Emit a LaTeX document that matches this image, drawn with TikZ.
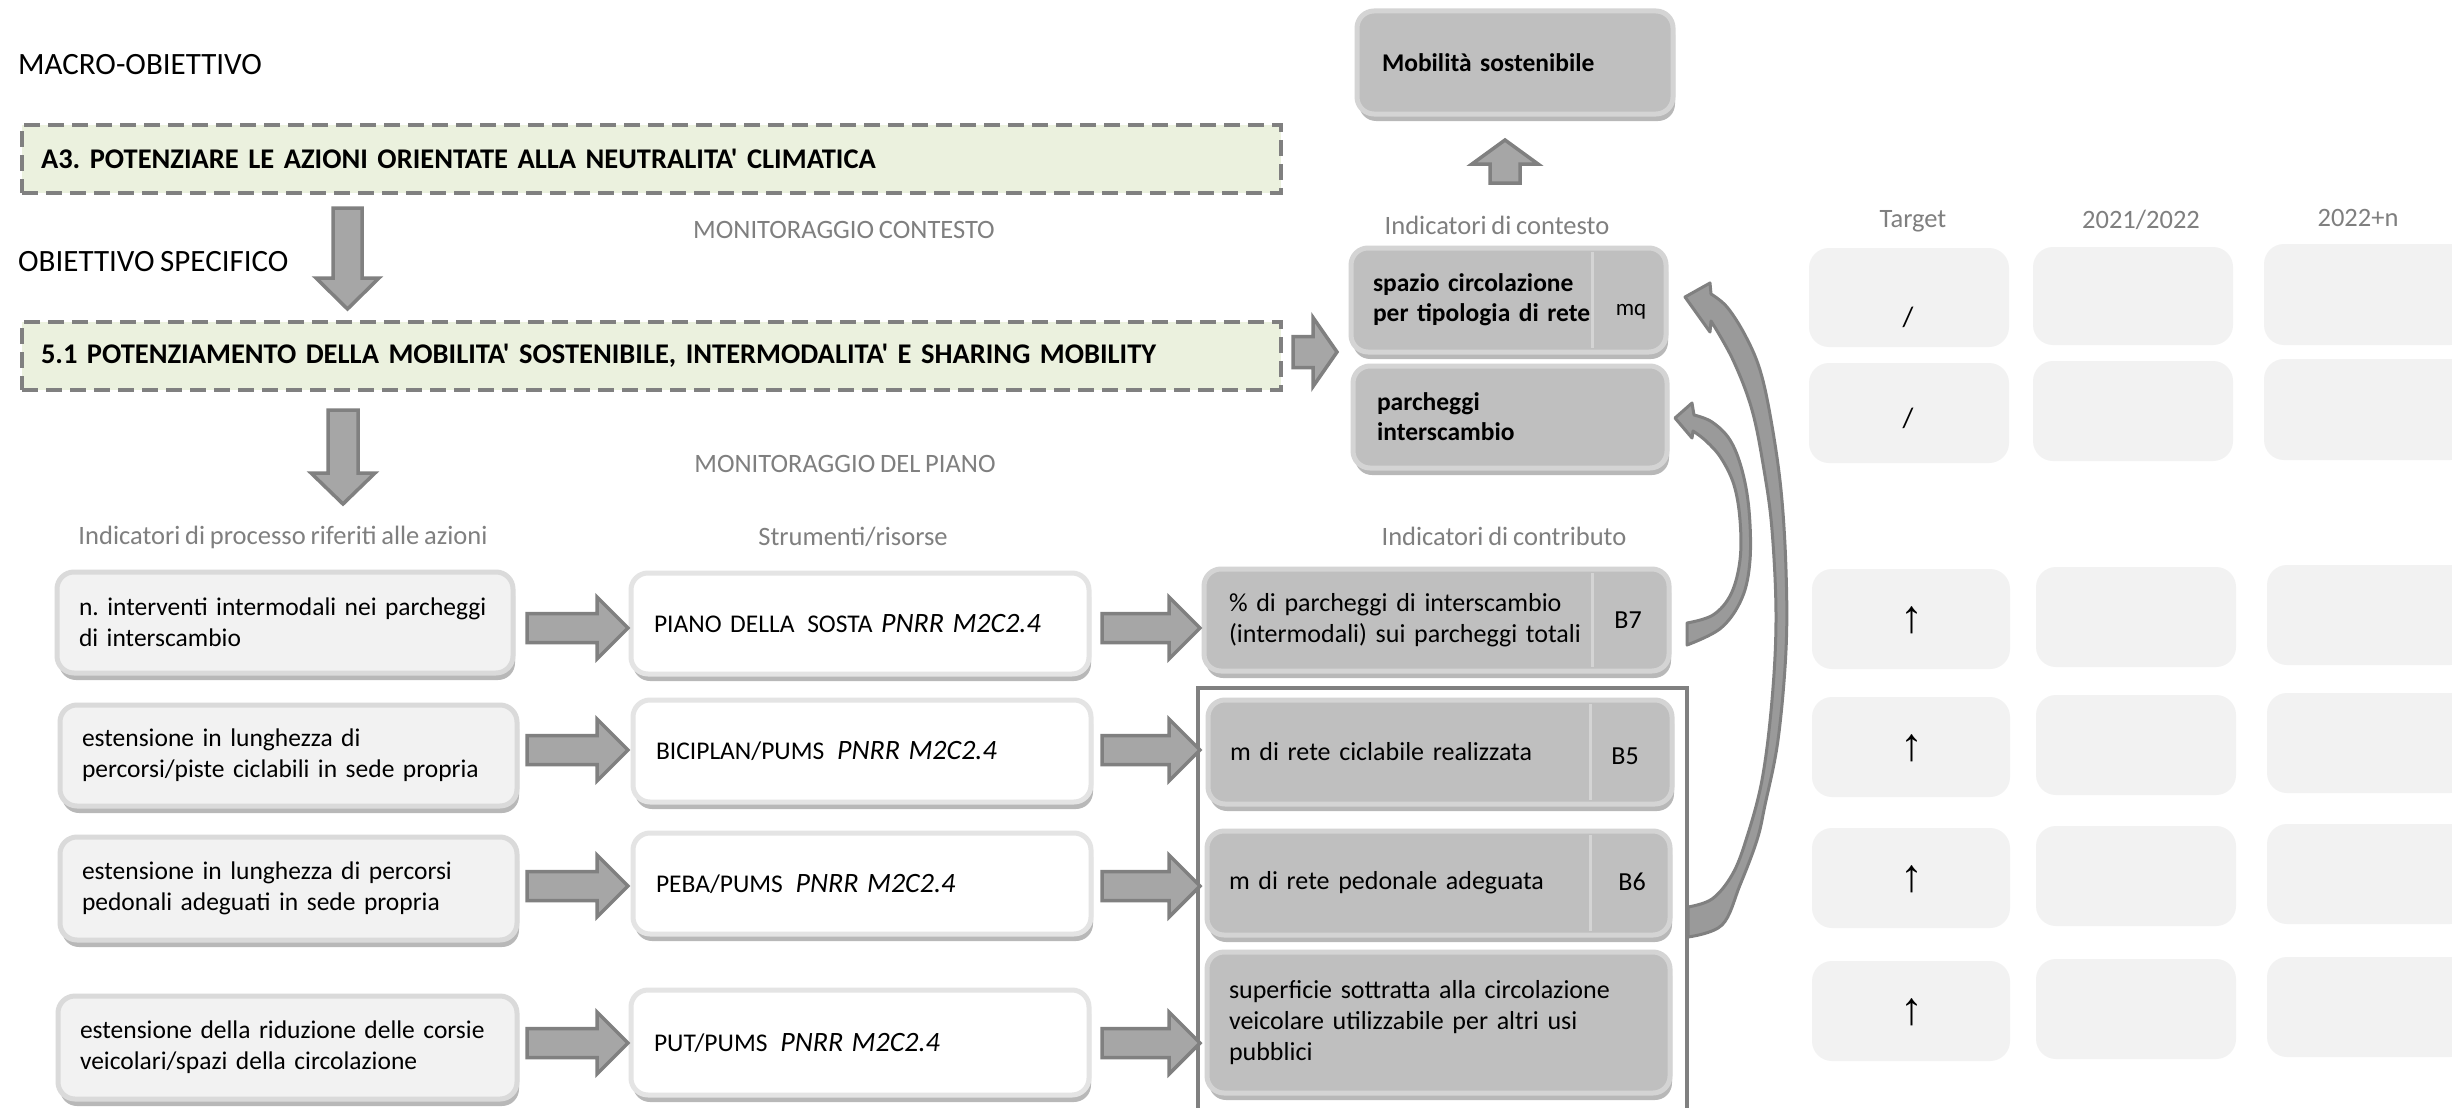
\documentclass[tikz,border=0pt]{standalone}
\usepackage{fontspec}
\setmainfont{Carlito}[Ligatures=TeXOff, WordSpace=0.8]
\newfontfamily\arrfont{Liberation Sans}
\usetikzlibrary{shadows,calc}
\frenchspacing
\definecolor{dashc}{HTML}{808080}
\definecolor{greenf}{HTML}{EBF1DE}
\definecolor{grayf}{HTML}{BFBFBF}
\definecolor{grayr}{HTML}{D4D4D4}
\definecolor{lightf}{HTML}{F2F2F2}
\definecolor{lightr}{HTML}{DADADA}
\definecolor{whiter}{HTML}{E4E4E4}
\definecolor{arrf}{HTML}{A6A6A6}
\definecolor{arrd}{HTML}{808080}
\definecolor{labc}{HTML}{7F7F7F}
\definecolor{cellf}{HTML}{F2F2F2}
\definecolor{carrf}{HTML}{9A9A9A}
\newcommand\myRA[5]{\draw[blk] let \p1=(#1), \p2=(#2) in (\x1,\y1-#3pt) -- (\x2-#5pt,\y1-#3pt) -- (\x2-#5pt,\y1-#4pt) -- (\x2,\y1) -- (\x2-#5pt,\y1+#4pt) -- (\x2-#5pt,\y1+#3pt) -- (\x1,\y1+#3pt) -- cycle;}
\newcommand\myDA[5]{\draw[blk] let \p1=(#1), \p2=(#2) in (\x1-#3pt,\y1) -- (\x1-#3pt,\y2+#5pt) -- (\x1-#4pt,\y2+#5pt) -- (\x1,\y2) -- (\x1+#4pt,\y2+#5pt) -- (\x1+#3pt,\y2+#5pt) -- (\x1+#3pt,\y1) -- cycle;}
\newcommand\myUA[5]{\draw[blk] let \p1=(#1), \p2=(#2) in (\x1-#3pt,\y1) -- (\x1-#3pt,\y2-#5pt) -- (\x1-#4pt,\y2-#5pt) -- (\x1,\y2) -- (\x1+#4pt,\y2-#5pt) -- (\x1+#3pt,\y2-#5pt) -- (\x1+#3pt,\y1) -- cycle;}
\tikzset{
 boxbase/.style={rounded corners=17pt, line width=5pt, inner sep=0pt, align=left,
   font=\fontsize{25.5}{31}\selectfont,
   drop shadow={shadow xshift=2pt, shadow yshift=-7pt, opacity=0.28, fill=black}},
 gbox/.style={boxbase, fill=grayf, draw=grayr},
 lbox/.style={boxbase, fill=lightf, draw=lightr},
 wbox/.style={boxbase, fill=white, draw=whiter},
 dbox/.style={draw=dashc, line width=4.5pt, dash pattern=on 16pt off 8pt, fill=greenf,
   inner sep=0pt, align=left, font=\fontsize{28.5}{33}\selectfont\bfseries},
 blk/.style={fill=arrf, draw=arrd, line width=3.5pt, line join=miter},
 carr/.style={fill=carrf, draw=arrd, line width=3pt, line join=round},
 lab/.style={text=labc, font=\fontsize{26.5}{31}\selectfont, inner sep=0pt},
 cell/.style={fill=cellf, rounded corners=20pt, draw=none, inner sep=0pt},
 divl/.style={draw=grayr, line width=3pt},
 framebox/.style={draw=arrd, line width=3.5pt},
 plain/.style={inner sep=0pt, font=\fontsize{26}{31}\selectfont},
 bhead/.style={font=\fontsize{25.5}{30}\selectfont\bfseries},
 tcol/.style={font=\fontsize{26}{31}\selectfont},
}
\newcommand\pnrr{{\fontsize{28}{31}\selectfont\itshape PNRR M2C2.4}}
\begin{document}
\begin{tikzpicture}[x=1pt,y=-1pt]
\useasboundingbox (0,0) rectangle (2452,1108);
\clip (0,0) rectangle (2452,1108);
\fill[white] (0,0) rectangle (2452,1108);

% ---------- titles and objective boxes
\node[anchor=west, inner sep=0pt, font=\fontsize{31}{36}\selectfont] (macro) at (18,65) {MACRO-OBIETTIVO};
\node[anchor=west, inner sep=0pt, font=\fontsize{31}{36}\selectfont] (spec) at (18,262) {OBIETTIVO SPECIFICO};
\node[dbox, minimum width=1259pt, minimum height=68pt, text width=1221pt] (a3) at (651.5,159)
  {A3. POTENZIARE LE AZIONI ORIENTATE ALLA NEUTRALITA' CLIMATICA};
\node[dbox, minimum width=1259pt, minimum height=68pt, text width=1221pt] (o51) at (651.5,356)
  {5.1 POTENZIAMENTO DELLA MOBILITA' SOSTENIBILE, INTERMODALITA' E SHARING MOBILITY};

% ---------- section labels
\node[lab] (moncont) at (844,230) {MONITORAGGIO CONTESTO};
\node[lab] (monpiano) at (845,464) {MONITORAGGIO DEL PIANO};
\node[lab] (hproc) at (283,537) {Indicatori di processo riferiti alle azioni};
\node[lab] (hstr) at (853,537) {Strumenti/risorse};
\node[lab] (hcontr) at (1504,536) {Indicatori di contributo};
\node[lab] (hcontx) at (1497,225) {Indicatori di contesto};
\node[lab] (htarget) at (1913,221) {Target};
\node[lab] (hy1) at (2141,220) {2021/2022};
\node[lab] (hy2) at (2358,218) {2022+n};

% ---------- context boxes
\node[gbox, bhead, minimum width=316pt, minimum height=103pt, text width=266pt] (mob) at (1515,62.5) {Mobilità sostenibile};
\node[gbox, bhead, minimum width=315pt, minimum height=104pt, text width=271pt] (spaz) at (1508.5,300) {spazio circolazione\\per tipologia di rete};
\draw[divl] (1592,252) -- (1592,348);
\node[plain, font=\fontsize{23}{26}\selectfont] (mq) at (1631,312) {mq};
\node[gbox, bhead, minimum width=314pt, minimum height=102pt, text width=266pt] (parch) at (1510,417) {parcheggi\\interscambio};

% ---------- process indicators
\node[lbox, minimum width=456pt, minimum height=101pt, text width=412pt] (L1) at (285,622.5) {n. interventi intermodali nei parcheggi\\di interscambio};
\node[lbox, minimum width=457pt, minimum height=101pt, text width=413pt] (L2) at (288.5,755.5) {estensione in lunghezza di\\percorsi/piste ciclabili in sede propria};
\node[lbox, minimum width=457pt, minimum height=103pt, text width=413pt] (L3) at (288.5,888.5) {estensione in lunghezza di percorsi\\pedonali adeguati in sede propria};
\node[lbox, minimum width=459pt, minimum height=103pt, text width=415pt] (L4) at (287.5,1047.5) {estensione della riduzione delle corsie\\veicolari/spazi della circolazione};

% ---------- tools
\node[wbox, minimum width=458pt, minimum height=101pt, text width=412pt] (M1) at (860,623.5) {PIANO DELLA \,SOSTA \pnrr};
\node[wbox, minimum width=458pt, minimum height=102pt, text width=412pt] (M2) at (862,751) {BICIPLAN/PUMS \,\pnrr};
\node[wbox, minimum width=458pt, minimum height=101pt, text width=412pt] (M3) at (862,883.5) {PEBA/PUMS \,\pnrr};
\node[wbox, minimum width=458pt, minimum height=105pt, text width=412pt] (M4) at (860,1042.5) {PUT/PUMS \,\pnrr};

% ---------- contribution indicators
\draw[framebox] (1198,688) rectangle (1687,1130);
\node[gbox, tcol, minimum width=465pt, minimum height=102pt, text width=415pt] (R1) at (1436.5,620) {\% di parcheggi di interscambio\\(intermodali) sui parcheggi totali};
\draw[divl] (1592,573) -- (1592,667);
\node[plain] (b7) at (1628,620) {B7};
\node[gbox, tcol, minimum width=464pt, minimum height=104pt, text width=420pt] (R2) at (1440,752) {m di rete ciclabile realizzata};
\draw[divl] (1590,704) -- (1590,800);
\node[plain] (b5) at (1625,756) {B5};
\node[gbox, tcol, minimum width=463pt, minimum height=104pt, text width=419pt] (R3) at (1438.5,883) {m di rete pedonale adeguata};
\draw[divl] (1590,835) -- (1590,931);
\node[plain] (b6) at (1632,882) {B6};
\node[gbox, tcol, minimum width=463pt, minimum height=141pt, text width=419pt] (R4) at (1438.5,1022.5) {superficie sottratta alla circolazione\\veicolare utilizzabile per altri usi\\pubblici};

% ---------- table cells
\node[cell, minimum width=200pt, minimum height=99pt] (t11) at (1909,297.5) {};
\node[cell, minimum width=200pt, minimum height=98pt] (t12) at (2133,296) {};
\node[cell, minimum width=206pt, minimum height=101pt] (t13) at (2367,294.5) {};
\node[cell, minimum width=200pt, minimum height=100pt] (t21) at (1909,413) {};
\node[cell, minimum width=200pt, minimum height=100pt] (t22) at (2133,411) {};
\node[cell, minimum width=206pt, minimum height=101pt] (t23) at (2367,409.5) {};
\node[plain, font=\fontsize{28}{31}\selectfont] (s1) at (1908,317) {/};
\node[plain, font=\fontsize{28}{31}\selectfont] (s2) at (1908,418) {/};
\foreach \r/\y in {1/619,2/747,3/878,4/1011}{
  \node[cell, minimum width=198pt, minimum height=100pt] (c\r a) at (1911,\y) {};
  \node[cell, minimum width=200pt, minimum height=100pt] (c\r b) at (2136,\y-2) {};
  \node[cell, minimum width=203pt, minimum height=100pt] (c\r c) at (2368.5,\y-4) {};
  \node[plain, font=\fontsize{46}{50}\selectfont\arrfont] (up\r) at (1912,\y+1) {↑};
}

% ---------- block arrows
\coordinate (d1s) at (347.5,208); \coordinate (d1e) at (347.5,309);
\myDA{d1s}{d1e}{14.5}{31.5}{31}
\coordinate (d2s) at (343,410); \coordinate (d2e) at (343,504);
\myDA{d2s}{d2e}{15}{32}{31}
\coordinate (u1s) at (1505,183); \coordinate (u1e) at (1505,140);
\myUA{u1s}{u1e}{15}{33}{24}
\coordinate (r0s) at (1293,352); \coordinate (r0e) at (1337,352);
\myRA{r0s}{r0e}{15.5}{34.5}{24}
\foreach \i/\y in {1/628,2/750,3/886,4/1043}{
  \coordinate (la\i) at (527,\y); \coordinate (lb\i) at (628,\y);
  \myRA{la\i}{lb\i}{14.5}{31}{31}
  \coordinate (ma\i) at (1102,\y); \coordinate (mb\i) at (1200,\y);
  \myRA{ma\i}{mb\i}{14.5}{31}{31}
}

% ---------- curved arrows
\filldraw[carr] plot[smooth, tension=0.6] coordinates {(1688,907) (1712,899) (1732,875) (1746,840) (1762,780) (1772,700) (1776,617) (1772,530) (1764,470) (1752,410) (1733,360) (1711,321)}
  -- (1710,332) -- (1685,297) -- (1710,283)
  -- plot[smooth, tension=0.6] coordinates {(1711,294) (1727,307) (1745,335) (1760,370) (1771,420) (1781,490) (1786,570) (1786,650) (1778,740) (1765,805) (1757,840) (1740,885) (1722,925) (1688,937)} -- cycle;
\filldraw[carr] plot[smooth, tension=0.6] coordinates {(1687,623) (1713,615) (1731,594) (1740,560) (1740,520) (1734,485) (1721,458) (1706,441) (1693,431)}
  -- (1692,438) -- (1675,418) -- (1692,403)
  -- plot[smooth, tension=0.6] coordinates {(1694,415) (1712,422) (1730,440) (1742,470) (1749,510) (1750,560) (1742,598) (1721,628) (1687,645)} -- cycle;
\end{tikzpicture}
\end{document}
